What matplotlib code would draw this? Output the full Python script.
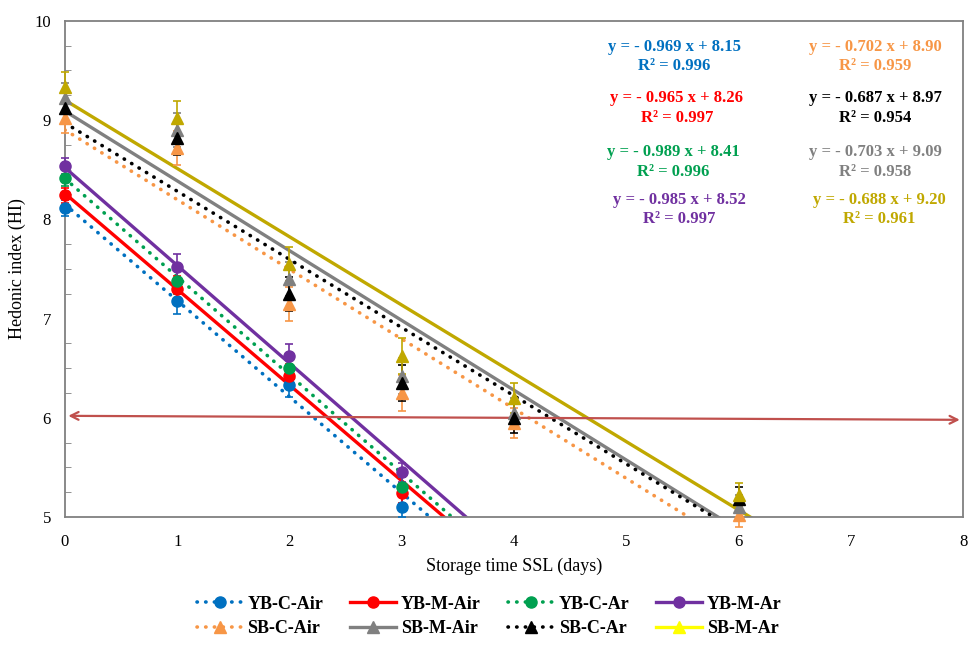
import numpy as np
import matplotlib
matplotlib.use("Agg")
import matplotlib.pyplot as plt
from matplotlib.lines import Line2D
from matplotlib.ticker import MultipleLocator

plt.rcParams['font.family'] = ['Liberation Serif', 'DejaVu Serif']

# storage days
days_yb = [0, 1, 2, 3]
days_sb = [0, 1, 2, 3, 4, 6]

# hedonic index values
yb_c_air = [8.11, 7.18, 6.33, 5.10]
yb_m_air = [8.24, 7.30, 6.42, 5.24]
yb_c_ar = [8.42, 7.38, 6.50, 5.30]
yb_m_ar = [8.54, 7.52, 6.62, 5.45]
sb_c_air = [9.02, 8.72, 7.15, 6.25, 5.95, 5.02]
sb_m_air = [9.22, 8.90, 7.40, 6.42, 6.05, 5.10]
sb_c_ar = [9.12, 8.82, 7.25, 6.35, 6.00, 5.18]
sb_m_ar = [9.33, 9.02, 7.55, 6.62, 6.20, 5.22]

# error bars (approx.)
yb_err = [0.08, 0.13, 0.12, 0.10]
sb_err = [0.15, 0.17, 0.17, 0.18, 0.15, 0.12]

# trendline slopes / intercepts / r2 from the chart labels
series = [
    # label, days, values, err, colour, marker, dotted, slope, intercept, r2
    ("YB-C-Air", days_yb, yb_c_air, yb_err, "#0070C0", "o", True, -0.969, 8.15, 0.996),
    ("YB-M-Air", days_yb, yb_m_air, yb_err, "#FF0000", "o", False, -0.965, 8.26, 0.997),
    ("YB-C-Ar", days_yb, yb_c_ar, yb_err, "#00A050", "o", True, -0.989, 8.41, 0.996),
    ("YB-M-Ar", days_yb, yb_m_ar, yb_err, "#7030A0", "o", False, -0.985, 8.52, 0.997),
    ("SB-C-Air", days_sb, sb_c_air, sb_err, "#F79646", "^", True, -0.702, 8.90, 0.959),
    ("SB-M-Air", days_sb, sb_m_air, sb_err, "#808080", "^", False, -0.703, 9.09, 0.958),
    ("SB-C-Ar", days_sb, sb_c_ar, sb_err, "#000000", "^", True, -0.687, 8.97, 0.954),
    ("SB-M-Ar", days_sb, sb_m_ar, sb_err, "#C0A800", "^", False, -0.688, 9.20, 0.961),
]
legend_colors = {"SB-M-Ar": "#FFFF00"}

# label positions (data coords): left column YB, right column SB
eq_pos = [(5.43, 9.64), (5.45, 9.12), (5.42, 8.58), (5.47, 8.10),
          (7.22, 9.64), (7.22, 8.58), (7.22, 9.12), (7.25, 8.10)]

fig = plt.figure(figsize=(9.69, 6.48), dpi=100)
ax = fig.add_axes([0.067, 0.202, 0.927, 0.766])

xfit = np.linspace(0, 8, 200)
handles = []
for (label, d, v, e, col, mk, dotted, a, b, r2), (tx, ty) in zip(series, eq_pos):
    ls = (0, (0.1, 2.3)) if dotted else "-"
    lw = 2.6 if dotted else 2.4
    ax.plot(xfit, a * xfit + b, color=col, lw=lw, ls=ls, dash_capstyle="round", zorder=2)
    ax.errorbar(d, v, yerr=e, fmt=mk, color=col, ms=8 if mk == "o" else 9,
                capsize=3, elinewidth=1.2, capthick=1.2, zorder=3, clip_on=False)
    ax.text(tx, ty, "y = - %.3f x + %.2f\nR\u00b2 = %.3f" % (-a, b, r2),
            color=col, fontsize=12, fontweight="bold", ha="center", va="center",
            linespacing=1.3)
    lc = legend_colors.get(label, col)
    handles.append(Line2D([0], [0], color=lc, lw=lw, ls=ls, marker=mk,
                          ms=8, dash_capstyle="round", label=label))

# shelf-life limit arrow
ax.annotate("", xy=(7.97, 5.98), xytext=(0.03, 6.02),
            arrowprops=dict(arrowstyle="<->", color="#C0504D", lw=1.6,
                            mutation_scale=14, shrinkA=0, shrinkB=0))

ax.set_xlim(0, 8)
ax.set_ylim(5, 10)
ax.xaxis.set_major_locator(MultipleLocator(1))
ax.yaxis.set_major_locator(MultipleLocator(1))
ax.yaxis.set_minor_locator(MultipleLocator(0.25))
ax.tick_params(axis="x", length=0, pad=12, labelsize=12)
ax.tick_params(axis="y", which="major", length=0, pad=10, labelsize=12)
ax.tick_params(axis="y", which="minor", direction="in", length=4, color="#808080")
for s in ax.spines.values():
    s.set_color("#808080")
    s.set_linewidth(1.3)
ax.set_xlabel("Storage time SSL (days)", fontsize=13, labelpad=6)
ax.set_ylabel("Hedonic index (HI)", fontsize=13, labelpad=6)

order = [0, 4, 1, 5, 2, 6, 3, 7]
fig.legend([handles[i] for i in order], [handles[i].get_label() for i in order],
           loc="lower center", bbox_to_anchor=(0.505, -0.008), ncol=4, frameon=False,
           prop={"weight": "bold", "size": 13}, handlelength=2.5, handletextpad=0.3,
           columnspacing=1.5, labelspacing=0.4)

fig.savefig("out.png", dpi=100)
